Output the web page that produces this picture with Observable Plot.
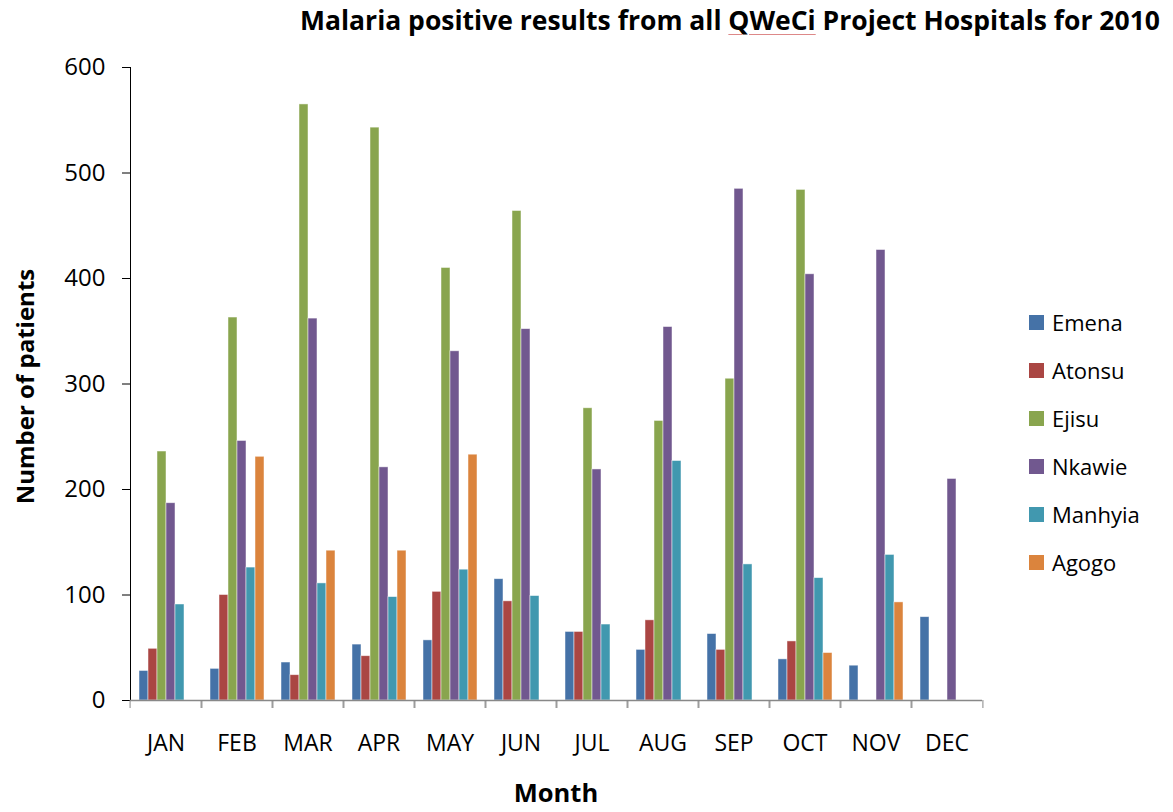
<!DOCTYPE html>
<html><head><meta charset="utf-8">
<script src="https://cdn.jsdelivr.net/npm/d3@7"></script>
<script src="https://cdn.jsdelivr.net/npm/@observablehq/plot@0.6"></script>
<style>
body{margin:0;background:#fff;font-family:"Open Sans",sans-serif;}
#wrap{position:relative;width:1173px;height:812px;overflow:hidden;}
#chart{position:absolute;left:0;top:0;}
#title{position:absolute;left:230px;width:1000px;top:2px;text-align:center;font-weight:bold;font-size:26.5px;line-height:normal;color:#000;white-space:nowrap;}
#title u{text-decoration:underline;text-decoration-color:#d88;text-decoration-thickness:1px;text-underline-offset:4px;}
#ylab{position:absolute;left:-176px;top:370px;width:400px;height:33px;text-align:center;font-weight:bold;font-size:24px;line-height:normal;transform:rotate(-90deg);color:#000;}
#xlab{position:absolute;left:456px;top:775px;width:200px;text-align:center;font-weight:bold;font-size:25.5px;line-height:normal;color:#000;}
#legend{position:absolute;left:0;top:0;}
.sw{position:absolute;left:1029px;width:15px;height:15px;}
.lt{position:absolute;left:1052px;white-space:nowrap;font-size:22px;line-height:normal;color:#000;}
#chart svg [aria-label="y-axis tick"], #chart svg [aria-label="y-axis line"]{stroke:#888;}
</style></head><body>
<div id="wrap">
  <div id="chart"></div>
  <div id="title">Malaria positive results from all <u>QWeCi</u> Project Hospitals for 2010</div>
  <div id="ylab">Number of patients</div>
  <div id="xlab">Month</div>
  <div id="legend"></div>
</div>
<script>
const months = ["JAN","FEB","MAR","APR","MAY","JUN","JUL","AUG","SEP","OCT","NOV","DEC"];
const hospitals = ["Emena","Atonsu","Ejisu","Nkawie","Manhyia","Agogo"];
const emena   = [28, 30, 36, 53, 57, 115, 65, 48, 63, 39, 33, 79];
const atonsu  = [49, 100, 24, 42, 103, 94, 65, 76, 48, 56, 0, 0];
const ejisu   = [236, 363, 565, 543, 410, 464, 277, 265, 305, 484, 0, 0];
const nkawie  = [187, 246, 362, 221, 331, 352, 219, 354, 485, 404, 427, 210];
const manhyia = [91, 126, 111, 98, 124, 99, 72, 227, 129, 116, 138, 0];
const agogo   = [0, 231, 142, 142, 233, 0, 0, 0, 0, 45, 93, 0];
const yTicks  = [0, 100, 200, 300, 400, 500, 600];
const colors  = ["#4572A7","#AA4643","#89A54E","#71588F","#4198AF","#DB843D"];

const series = [emena, atonsu, ejisu, nkawie, manhyia, agogo];
const rows = [];
hospitals.forEach((h, i) => months.forEach((m, j) => {
  if (series[i][j] > 0) rows.push({month: m, hospital: h, value: series[i][j]});
}));

const W = 1173, H = 812, ML = 125, MR = 186, MT = 67, MB = 112;
const step = (W - ML - MR) / months.length;

const chart = Plot.plot({
  width: W, height: H,
  marginLeft: ML, marginRight: MR, marginTop: MT, marginBottom: MB,
  style: {fontFamily: "'Open Sans', sans-serif", fontSize: "23px", color: "black", background: "white", overflow: "visible"},
  fx: {domain: months, paddingInner: 0, paddingOuter: 0, label: null},
  x: {domain: hospitals, paddingInner: 0, paddingOuter: 0.78, axis: null},
  y: {domain: [0, 600], ticks: yTicks, tickSize: 8, tickPadding: 17, line: true, label: null},
  color: {domain: hospitals, range: colors},
  marks: [
    Plot.barY(rows, {fx: "month", x: "hospital", y: "value", fill: "hospital", stroke: "white", strokeOpacity: 0.6, strokeWidth: 0.8}),
    Plot.ruleY([0], {stroke: "#888", strokeWidth: 1.5}),
    Plot.axisFx({anchor: "bottom", tickSize: 0, tickPadding: 34, fontSize: 23, label: null}),
    Plot.axisFx({anchor: "bottom", tickSize: 8, tickFormat: () => "", dx: step / 2, stroke: "#888", label: null}),
    Plot.axisFx({anchor: "bottom", tickSize: 8, tickFormat: () => "", dx: -step / 2, stroke: "#888", label: null})
  ]
});
document.getElementById("chart").appendChild(chart);
chart.querySelectorAll('[aria-label="y-axis tick label"]').forEach(g => g.setAttribute("font-size", "24"));

const legend = document.getElementById("legend");
hospitals.forEach((h, i) => {
  const s = document.createElement("div");
  s.className = "sw";
  s.style.top = (315 + i * 48) + "px";
  s.style.background = colors[i];
  legend.appendChild(s);
  const t = document.createElement("div");
  t.className = "lt";
  t.style.top = (307 + i * 48) + "px";
  t.textContent = h;
  legend.appendChild(t);
});
</script>
</body></html>
